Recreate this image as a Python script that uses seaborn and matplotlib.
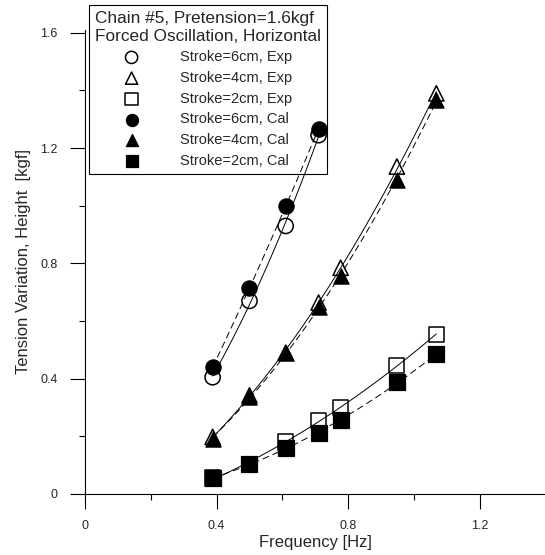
import numpy as np
import pandas as pd
import matplotlib
matplotlib.use('Agg')
import matplotlib.pyplot as plt
import seaborn as sns
from matplotlib.ticker import MultipleLocator

# frequencies [Hz]
freq = [0.388, 0.50, 0.61, 0.71, 0.777, 0.948, 1.068]
freq6 = freq[:4]

# tension variation [kgf]
exp6 = [0.405, 0.67, 0.93, 1.245]
cal6 = [0.44, 0.715, 0.998, 1.268]
exp4 = [0.198, 0.342, 0.49, 0.664, 0.785, 1.136, 1.39]
cal4 = [0.192, 0.336, 0.49, 0.647, 0.755, 1.09, 1.367]
exp2 = [0.055, 0.103, 0.18, 0.256, 0.30, 0.446, 0.553]
cal2 = [0.055, 0.103, 0.16, 0.212, 0.256, 0.388, 0.484]

sns.set_style('ticks')
plt.rcParams['font.family'] = ['Liberation Sans', 'DejaVu Sans']

fig = plt.figure(figsize=(5.45, 5.55), dpi=100)
ax = fig.add_axes([0.156, 0.110, 0.845, 0.836])

# fitted curves: solid = Exp, dashed = Cal
dash = (0, (7, 4))
for x, y, ls in [(freq6, exp6, '-'), (freq6, cal6, dash),
                 (freq, exp4, '-'), (freq, cal4, dash),
                 (freq, exp2, '-'), (freq, cal2, dash)]:
    sns.regplot(x=x, y=y, order=2, ci=None, scatter=False, ax=ax,
                line_kws=dict(color='black', lw=0.7, linestyle=ls, zorder=3))

ms = 120
sns.scatterplot(x=freq6, y=exp6, marker='o', s=ms, facecolor='none', edgecolor='black',
                linewidth=1.1, ax=ax, label='Stroke=6cm, Exp', zorder=4)
sns.scatterplot(x=freq, y=exp4, marker='^', s=ms, facecolor='none', edgecolor='black',
                linewidth=1.1, ax=ax, label='Stroke=4cm, Exp', zorder=4)
sns.scatterplot(x=freq, y=exp2, marker='s', s=ms, facecolor='none', edgecolor='black',
                linewidth=1.1, ax=ax, label='Stroke=2cm, Exp', zorder=4)
sns.scatterplot(x=freq6, y=cal6, marker='o', s=ms, color='black', edgecolor='black',
                ax=ax, label='Stroke=6cm, Cal', zorder=5)
sns.scatterplot(x=freq, y=cal4, marker='^', s=ms, color='black', edgecolor='black',
                ax=ax, label='Stroke=4cm, Cal', zorder=5)
sns.scatterplot(x=freq, y=cal2, marker='s', s=ms, color='black', edgecolor='black',
                ax=ax, label='Stroke=2cm, Cal', zorder=5)

ax.set_xlim(0, 1.4)
ax.set_ylim(0, 1.61)
ax.xaxis.set_minor_locator(MultipleLocator(0.2))
ax.yaxis.set_minor_locator(MultipleLocator(0.2))
ax.set_xticks([0, 0.4, 0.8, 1.2])
ax.set_xticklabels(['0', '0.4', '0.8', '1.2'])
ax.set_yticks([0, 0.4, 0.8, 1.2, 1.6])
ax.set_yticklabels(['0', '0.4', '0.8', '1.2', '1.6'])
ax.tick_params(which='major', length=11, width=0.8, labelsize=9, color='black')
ax.tick_params(which='minor', length=4, width=0.8, color='black')
ax.tick_params(axis='x', pad=8)
ax.tick_params(axis='y', pad=8.5)
sns.despine(ax=ax)
for s in ['left', 'bottom']:
    ax.spines[s].set_linewidth(0.8)
    ax.spines[s].set_color('black')

ax.set_xlabel('Frequency [Hz]', fontsize=12, labelpad=2)
ax.set_ylabel('Tension Variation, Height  [kgf]', fontsize=12, labelpad=7)

leg = ax.legend(title='Chain #5, Pretension=1.6kgf\nForced Oscillation, Horizontal',
                loc='upper left', bbox_to_anchor=(89 / 545, 1 - 5 / 555),
                bbox_transform=fig.transFigure, fontsize=10.5, title_fontsize=12.4,
                frameon=True, fancybox=False, edgecolor='black', framealpha=1,
                handlelength=5.0, handletextpad=0.8, labelspacing=0.46, markerscale=0.8,
                borderpad=0.42, borderaxespad=0, alignment='left')
leg.get_frame().set_linewidth(0.8)
leg.set_zorder(2)

fig.savefig('out.png', dpi=100)
